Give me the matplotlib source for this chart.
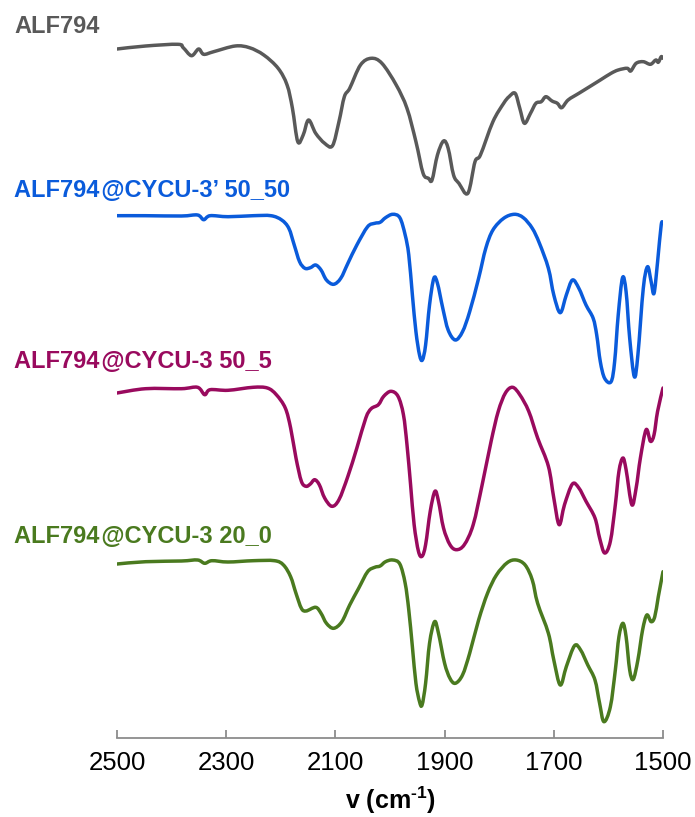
import matplotlib
matplotlib.use("Agg")
import matplotlib.pyplot as plt
from matplotlib.path import Path
from matplotlib.patches import PathPatch

plt.rcParams["font.family"] = ["Liberation Sans", "Noto Sans CJK SC", "DejaVu Sans"]
plt.rcParams["mathtext.fontset"] = "custom"
plt.rcParams["mathtext.rm"] = "Liberation Sans"
plt.rcParams["mathtext.bf"] = "Liberation Sans:bold"

# ---- spectra: wavenumber (cm-1) and relative transmittance (a.u.) ----
wn_alf = [2500, 2447.5, 2388.5, 2378.7, 2363.6, 2350.5, 2341.3, 2323.0, 2283.6, 2257.4,
          2231.2, 2204.9, 2188.5, 2178.7, 2168.9, 2159.0, 2149.2, 2136.1, 2119.7, 2105.3,
          2093.5, 2083.6, 2073.8, 2054.1, 2034.5, 2014.8, 1988.6, 1968.9, 1952.5, 1939.4,
          1929.5, 1923.0, 1913.1, 1902.0, 1893.5, 1883.6, 1873.8, 1857.4, 1844.3, 1834.4,
          1811.5, 1791.8, 1782.0, 1770.8, 1762.3, 1753.8, 1742.7, 1732.8, 1723.0, 1714.5,
          1703.3, 1693.5, 1685.6, 1673.8, 1654.1, 1634.5, 1614.8, 1595.1, 1582.0, 1565.6,
          1559.1, 1549.2, 1536.1, 1523.0, 1513.2, 1508.6, 1503.3, 1500.0]
t_alf = [-14.0, -11.0, -9.3, -12.7, -20.7, -14.0, -19.3, -16.7, -11.0, -12.7,
         -20.0, -33.3, -50.0, -73.3, -106.7, -100.0, -85.0, -98.3, -108.3, -110.7,
         -86.7, -61.7, -53.3, -30.0, -23.3, -28.3, -50.0, -73.3, -106.7, -138.3,
         -143.3, -145.0, -120.0, -106.0, -113.3, -140.0, -148.3, -158.3, -126.7, -120.0,
         -86.7, -68.3, -61.7, -58.3, -73.3, -88.3, -78.3, -68.3, -66.7, -61.7,
         -66.0, -68.3, -72.7, -65.0, -58.3, -51.7, -45.0, -38.3, -35.0, -33.3,
         -36.0, -28.3, -26.7, -29.3, -25.0, -27.3, -21.7, -23.3]

wn_5050 = [2500, 2447.5, 2382.0, 2352.5, 2341.3, 2329.5, 2296.7, 2250.8, 2218.0, 2198.4,
           2185.3, 2175.4, 2165.6, 2155.8, 2145.9, 2136.1, 2126.3, 2116.4, 2103.3, 2090.2,
           2077.1, 2060.7, 2041.0, 2027.9, 2018.1, 2008.2, 1995.1, 1982.0, 1972.2, 1965.6,
           1959.0, 1952.5, 1945.9, 1940.7, 1934.8, 1927.6, 1919.7, 1913.1, 1903.3, 1893.5,
           1880.4, 1867.2, 1854.1, 1837.7, 1824.6, 1811.5, 1791.8, 1772.2, 1755.8, 1739.4,
           1726.3, 1709.9, 1700.0, 1688.2, 1677.1, 1665.9, 1654.1, 1641.0, 1627.9, 1621.4,
           1614.8, 1606.9, 1595.1, 1588.6, 1582.0, 1574.1, 1567.6, 1561.0, 1552.5, 1546.0,
           1536.1, 1528.3, 1521.7, 1516.4, 1509.9, 1503.3, 1500.0]
t_5050 = [-10.7, -10.7, -11.0, -10.0, -14.7, -10.7, -11.7, -10.7, -10.7, -15.0,
          -23.3, -40.0, -56.7, -63.3, -62.7, -60.0, -65.0, -75.0, -79.3, -73.3,
          -58.3, -40.0, -21.7, -18.3, -17.3, -12.7, -9.3, -12.7, -30.0, -50.0,
          -90.0, -126.7, -150.0, -155.0, -140.0, -100.0, -73.3, -78.3, -103.3, -125.0,
          -135.0, -126.7, -106.7, -73.3, -43.3, -25.0, -13.3, -9.3, -12.7, -23.3,
          -38.3, -63.3, -90.0, -107.7, -90.0, -75.0, -83.3, -100.0, -113.3, -130.0,
          -156.7, -173.3, -176.7, -156.7, -110.0, -72.7, -86.7, -133.3, -171.7, -150.0,
          -83.3, -61.7, -76.7, -88.3, -56.7, -20.0, -18.3]

wn_505 = [2500, 2447.5, 2382.0, 2352.5, 2339.4, 2329.5, 2296.7, 2250.8, 2224.6, 2208.2,
          2191.8, 2182.0, 2172.2, 2162.3, 2153.8, 2145.9, 2138.0, 2129.5, 2119.7, 2106.6,
          2093.5, 2077.1, 2060.7, 2044.3, 2034.5, 2021.3, 2011.5, 1998.4, 1985.3, 1975.4,
          1968.9, 1962.3, 1955.8, 1947.9, 1941.3, 1934.8, 1926.3, 1917.7, 1911.2, 1902.0,
          1890.2, 1878.4, 1863.9, 1847.6, 1831.2, 1814.8, 1801.7, 1788.6, 1775.5, 1762.3,
          1745.9, 1729.6, 1709.9, 1700.0, 1690.2, 1680.4, 1665.9, 1654.1, 1641.0, 1624.6,
          1616.1, 1606.9, 1596.4, 1587.3, 1580.7, 1573.5, 1567.6, 1557.1, 1549.2, 1541.4,
          1530.9, 1523.0, 1516.4, 1509.9, 1500.0]
t_505 = [-15.0, -10.7, -10.7, -9.3, -16.7, -11.7, -12.3, -9.3, -10.0, -16.7,
         -30.0, -50.0, -80.0, -103.3, -108.3, -106.0, -101.7, -106.7, -120.0, -128.3,
         -121.7, -98.3, -70.0, -40.0, -30.7, -26.7, -18.3, -13.3, -18.3, -36.7,
         -66.7, -106.7, -146.7, -173.3, -178.3, -166.7, -133.3, -113.3, -123.3, -150.0,
         -166.7, -171.7, -166.7, -146.7, -106.7, -63.3, -33.3, -15.0, -9.3, -16.7,
         -33.3, -60.0, -88.3, -120.0, -146.7, -126.7, -106.0, -110.0, -123.3, -140.0,
         -160.0, -175.0, -163.3, -126.7, -93.3, -80.0, -91.7, -126.7, -110.0, -80.0,
         -51.7, -63.3, -56.7, -33.3, -10.0]

wn_200 = [2500, 2447.5, 2382.0, 2352.5, 2339.4, 2326.2, 2296.7, 2250.8, 2211.5, 2195.1,
          2182.0, 2172.2, 2162.3, 2153.8, 2136.1, 2126.3, 2116.4, 2103.3, 2088.2, 2073.8,
          2057.4, 2041.0, 2027.9, 2018.1, 2008.2, 1995.1, 1982.0, 1972.2, 1965.6, 1959.0,
          1952.5, 1945.9, 1941.3, 1934.8, 1927.6, 1918.4, 1911.2, 1900.0, 1890.2, 1880.4,
          1867.2, 1854.1, 1837.7, 1821.4, 1805.0, 1785.3, 1768.9, 1752.5, 1739.4, 1729.6,
          1709.9, 1700.0, 1688.2, 1677.1, 1662.0, 1650.9, 1637.8, 1624.6, 1616.1, 1608.2,
          1596.4, 1587.3, 1580.7, 1573.5, 1567.6, 1561.0, 1554.5, 1546.0, 1537.4, 1529.6,
          1521.7, 1515.1, 1508.6, 1500.0]
t_200 = [-14.0, -11.7, -11.0, -10.0, -13.3, -10.7, -12.0, -10.7, -10.7, -15.0,
         -26.7, -43.3, -58.3, -61.0, -57.3, -63.3, -73.3, -78.3, -71.7, -55.0,
         -38.3, -21.7, -17.3, -16.0, -11.7, -10.0, -14.0, -33.3, -60.0, -96.7,
         -133.3, -151.7, -155.0, -133.3, -93.3, -71.7, -83.3, -113.3, -128.3, -133.3,
         -125.0, -103.3, -70.0, -43.3, -25.0, -12.7, -10.0, -15.0, -30.0, -53.3,
         -83.3, -110.0, -135.0, -116.7, -95.7, -100.0, -115.0, -130.0, -153.3, -171.7,
         -156.7, -120.0, -86.7, -73.3, -86.7, -120.0, -129.3, -110.0, -80.0, -65.0,
         -71.7, -66.7, -46.7, -21.7]

labels = ["ALF794", "ALF794\u200a@CYCU-3’ 50_50", "ALF794\u200a@CYCU-3 50_5",
          "ALF794\u200a@CYCU-3 20_0"]
colors = ["#595959", "#0A5BDB", "#990A5E", "#4A7A1F"]
offsets = [703, 533, 360, 188]
label_y = [33, 197, 368, 543]          # label baselines, pixels from the top

series = [(wn_alf, t_alf), (wn_5050, t_5050), (wn_505, t_505), (wn_200, t_200)]


def smoothed_path(x, y):
    """Smoothed line through every data point (cubic Bezier segments)."""
    n = len(x)
    verts = [(x[0], y[0])]
    codes = [Path.MOVETO]
    for i in range(n - 1):
        xa, ya = (x[i - 1], y[i - 1]) if i > 0 else (x[i], y[i])
        xd, yd = (x[i + 2], y[i + 2]) if i + 2 < n else (x[i + 1], y[i + 1])
        c1 = (x[i] + (x[i + 1] - xa) / 6.0, y[i] + (y[i + 1] - ya) / 6.0)
        c2 = (x[i + 1] - (xd - x[i]) / 6.0, y[i + 1] - (yd - y[i]) / 6.0)
        verts += [c1, c2, (x[i + 1], y[i + 1])]
        codes += [Path.CURVE4] * 3
    return Path(verts, codes)


W, H = 695, 817
fig = plt.figure(figsize=(W / 100, H / 100), dpi=100)
ax = fig.add_axes([117 / W, 79 / H, 546 / W, 738 / H])

for (wn, t), off, c in zip(series, offsets, colors):
    ys = [v + off for v in t]
    ax.add_patch(PathPatch(smoothed_path(wn, ys), fill=False, edgecolor=c, lw=2.5,
                           joinstyle="round", capstyle="round"))

ax.set_xlim(2500, 1500)
ax.set_ylim(0, 738)
ax.set_xticks([2500, 2300, 2100, 1900, 1700, 1500])
for s in ["top", "right", "left"]:
    ax.spines[s].set_visible(False)
ax.spines["bottom"].set_color("#8C8C8C")
ax.spines["bottom"].set_linewidth(1.3)
ax.set_yticks([])
ax.tick_params(axis="x", direction="in", length=6, width=1.3, color="#8C8C8C",
               labelsize=18.5, pad=9, labelcolor="black")
ax.set_xlabel("v (cm$^{\\mathbf{\u2010}\\mathbf{1}}$)", fontsize=18, fontweight="bold",
              labelpad=7)

for lab, c, yb in zip(labels, colors, label_y):
    fig.text(14 / W, 1 - yb / H, lab, color=c, fontsize=17, fontweight="bold",
             va="baseline", ha="left",
             family=["Liberation Sans", "Noto Sans CJK SC", "DejaVu Sans"])

fig.savefig("out.png", dpi=100)
